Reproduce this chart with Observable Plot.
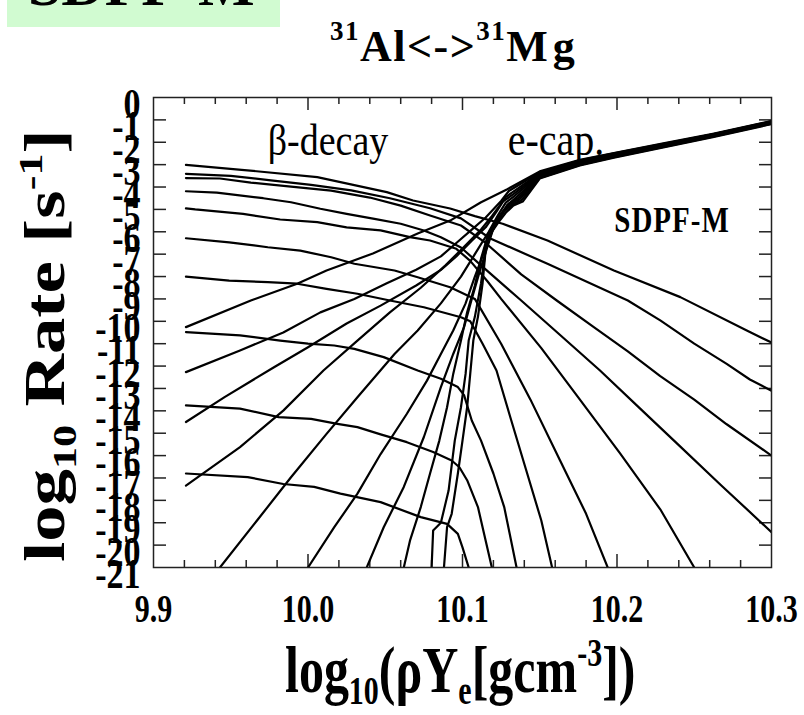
<!DOCTYPE html>
<html><head><meta charset="utf-8">
<script src="https://cdn.jsdelivr.net/npm/d3@7"></script>
<script src="https://cdn.jsdelivr.net/npm/@observablehq/plot@0.6"></script>
<style>
body{margin:0;background:#fff;}
#wrap{position:relative;width:804px;height:715px;overflow:hidden;font-family:"Liberation Serif","Times New Roman",serif;}
#wrap svg{position:absolute;left:0;top:0;}
</style></head><body><div id="wrap"></div>
<script>
// ---- tick values ----
const xLabelTicks = [9.9, 10.0, 10.1, 10.2, 10.3];
const xMinorTicks = [9.92,9.94,9.96,9.98,10.0,10.02,10.04,10.06,10.08,10.1,10.12,10.14,10.16,10.18,10.2,10.22,10.24,10.26,10.28];
const yLabelTicks = [0,-1,-2,-3,-4,-5,-6,-7,-8,-9,-10,-11,-12,-13,-14,-15,-16,-17,-18,-19,-20,-21];
const yInnerTicks = [-1,-2,-3,-4,-5,-6,-7,-8,-9,-10,-11,-12,-13,-14,-15,-16,-17,-18,-19,-20];

// ---- beta-decay curves, [log10(rho Ye), log10 rate] ----
const betaT1 = [[9.921,-3.01],[9.957,-3.23],[10.006,-3.56],[10.021,-3.78],[10.051,-4.23],[10.068,-4.60],[10.092,-4.96],[10.108,-5.30],[10.126,-5.64],[10.155,-6.39],[10.198,-7.73],[10.241,-8.92],[10.284,-10.41],[10.300,-10.95]];
const betaT2 = [[9.921,-3.41],[9.950,-3.50],[9.976,-3.70],[10.002,-3.90],[10.028,-4.15],[10.053,-4.50],[10.079,-4.95],[10.099,-5.40],[10.118,-6.30],[10.155,-7.43],[10.207,-9.07],[10.228,-9.96],[10.250,-11.00],[10.271,-11.90],[10.286,-12.60],[10.300,-13.10]];
const betaT3 = [[9.921,-3.60],[9.943,-3.62],[9.963,-3.80],[9.989,-3.98],[10.015,-4.16],[10.040,-4.47],[10.060,-4.83],[10.079,-5.27],[10.099,-5.72],[10.115,-6.50],[10.138,-7.90],[10.161,-9.07],[10.185,-10.26],[10.207,-11.34],[10.228,-12.45],[10.250,-13.50],[10.271,-14.60],[10.300,-16.00]];
const betaT4 = [[9.921,-4.19],[9.941,-4.25],[9.971,-4.50],[9.989,-4.68],[10.008,-4.97],[10.025,-5.20],[10.043,-5.42],[10.060,-5.64],[10.075,-5.94],[10.086,-6.24],[10.099,-6.70],[10.112,-7.50],[10.138,-9.07],[10.163,-10.60],[10.189,-12.20],[10.215,-13.90],[10.241,-15.60],[10.267,-17.30],[10.300,-19.42]];
const betaT5 = [[9.921,-4.95],[9.927,-5.00],[9.958,-5.20],[9.982,-5.45],[10.006,-5.57],[10.025,-5.80],[10.047,-5.94],[10.066,-6.24],[10.079,-6.39],[10.096,-6.76],[10.105,-7.30],[10.116,-8.20],[10.125,-9.00],[10.151,-11.20],[10.176,-13.50],[10.202,-15.90],[10.228,-18.40],[10.250,-21.00]];
const betaT6 = [[9.921,-6.29],[9.949,-6.47],[9.974,-6.69],[9.995,-6.84],[10.015,-7.14],[10.030,-7.43],[10.056,-7.73],[10.071,-8.03],[10.092,-8.48],[10.108,-9.00],[10.125,-11.00],[10.144,-13.50],[10.163,-16.20],[10.180,-18.60],[10.194,-21.00]];
const betaT7 = [[9.921,-8.00],[9.949,-8.18],[9.974,-8.25],[9.993,-8.32],[10.012,-8.55],[10.032,-8.77],[10.053,-9.07],[10.075,-9.37],[10.099,-9.82],[10.105,-10.00],[10.113,-11.00],[10.122,-12.20],[10.131,-14.30],[10.141,-16.60],[10.151,-18.90],[10.158,-21.00]];
const betaT8 = [[9.921,-10.48],[9.956,-10.63],[9.982,-10.86],[10.000,-11.00],[10.017,-11.08],[10.030,-11.23],[10.049,-11.60],[10.071,-12.20],[10.086,-12.57],[10.097,-12.94],[10.101,-13.30],[10.106,-14.43],[10.112,-15.33],[10.120,-16.80],[10.127,-18.30],[10.135,-21.00]];
const betaT9 = [[9.921,-13.76],[9.956,-13.90],[9.981,-14.28],[10.002,-14.36],[10.019,-14.58],[10.032,-14.73],[10.047,-15.05],[10.064,-15.40],[10.081,-15.84],[10.093,-16.22],[10.098,-16.52],[10.103,-17.10],[10.110,-18.30],[10.114,-19.50],[10.119,-21.00]];
const betaT10 = [[9.921,-16.80],[9.961,-16.96],[9.984,-17.27],[10.004,-17.40],[10.021,-17.70],[10.047,-18.08],[10.073,-18.75],[10.090,-19.05],[10.097,-19.50],[10.100,-20.10],[10.104,-21.00]];

// ---- electron-capture curves ----
const ecapT1 = [[9.921,-10.26],[9.963,-9.07],[9.993,-8.32],[10.012,-7.73],[10.042,-6.97],[10.071,-6.08],[10.092,-5.50],[10.112,-4.68],[10.129,-4.10],[10.150,-3.30],[10.176,-2.78],[10.198,-2.48],[10.230,-2.05],[10.262,-1.62],[10.300,-1.05]];
const ecapT2 = [[9.921,-12.27],[9.956,-11.30],[9.984,-10.50],[10.008,-9.60],[10.030,-9.00],[10.051,-8.30],[10.070,-7.70],[10.086,-7.10],[10.096,-6.50],[10.106,-5.90],[10.115,-5.36],[10.125,-4.62],[10.130,-4.18],[10.150,-3.34],[10.176,-2.81],[10.198,-2.50],[10.230,-2.07],[10.262,-1.64],[10.300,-1.06]];
const ecapT3 = [[9.921,-14.50],[9.946,-13.39],[9.978,-12.05],[10.000,-11.16],[10.025,-10.10],[10.047,-9.30],[10.070,-8.40],[10.086,-7.70],[10.096,-7.10],[10.106,-6.40],[10.115,-5.80],[10.122,-5.10],[10.128,-4.45],[10.132,-4.25],[10.150,-3.38],[10.176,-2.84],[10.198,-2.52],[10.230,-2.09],[10.262,-1.65],[10.300,-1.08]];
const ecapT4 = [[9.921,-17.34],[9.956,-15.62],[9.984,-13.99],[10.010,-12.20],[10.032,-10.86],[10.053,-9.60],[10.073,-8.50],[10.089,-7.50],[10.102,-6.60],[10.112,-5.90],[10.119,-5.30],[10.126,-4.65],[10.133,-4.32],[10.150,-3.41],[10.176,-2.87],[10.198,-2.55],[10.230,-2.11],[10.262,-1.67],[10.300,-1.10]];
const ecapT5 = [[9.943,-21.00],[9.967,-18.90],[9.989,-16.97],[10.012,-15.03],[10.032,-13.39],[10.056,-11.46],[10.071,-10.41],[10.086,-9.20],[10.099,-8.00],[10.108,-7.00],[10.117,-6.00],[10.123,-5.25],[10.128,-4.70],[10.134,-4.38],[10.150,-3.45],[10.176,-2.90],[10.198,-2.57],[10.230,-2.13],[10.262,-1.68],[10.300,-1.11]];
const ecapT6 = [[10.000,-21.00],[10.017,-19.20],[10.032,-17.70],[10.047,-15.93],[10.064,-14.13],[10.077,-12.65],[10.086,-11.46],[10.094,-10.41],[10.102,-9.20],[10.108,-8.00],[10.114,-6.90],[10.119,-6.00],[10.124,-5.35],[10.129,-4.80],[10.135,-4.45],[10.150,-3.49],[10.176,-2.93],[10.198,-2.59],[10.230,-2.15],[10.262,-1.70],[10.300,-1.12]];
const ecapT7 = [[10.038,-21.00],[10.049,-19.20],[10.062,-17.40],[10.075,-15.17],[10.086,-12.94],[10.094,-11.46],[10.101,-10.26],[10.106,-9.00],[10.111,-7.80],[10.116,-6.70],[10.120,-5.85],[10.125,-5.20],[10.130,-4.75],[10.136,-4.50],[10.150,-3.52],[10.176,-2.96],[10.198,-2.62],[10.230,-2.17],[10.262,-1.71],[10.300,-1.14]];
const ecapT8 = [[10.062,-21.00],[10.066,-19.80],[10.073,-18.30],[10.079,-16.80],[10.085,-15.33],[10.090,-13.84],[10.094,-12.35],[10.099,-10.86],[10.103,-9.60],[10.108,-8.40],[10.112,-7.20],[10.116,-6.25],[10.121,-5.55],[10.126,-5.10],[10.131,-4.75],[10.137,-4.55],[10.150,-3.55],[10.176,-2.98],[10.198,-2.64],[10.230,-2.19],[10.262,-1.73],[10.300,-1.15]];
const ecapT9 = [[10.080,-21.00],[10.081,-19.35],[10.086,-19.00],[10.091,-17.56],[10.093,-16.44],[10.095,-15.33],[10.099,-13.84],[10.102,-12.35],[10.104,-10.86],[10.108,-9.80],[10.112,-8.30],[10.115,-6.80],[10.118,-6.00],[10.122,-5.60],[10.127,-5.10],[10.132,-4.78],[10.138,-4.60],[10.150,-3.59],[10.176,-3.01],[10.198,-2.67],[10.230,-2.21],[10.262,-1.75],[10.300,-1.17]];
const ecapT10 = [[10.088,-21.00],[10.090,-19.20],[10.093,-18.60],[10.097,-16.80],[10.100,-15.33],[10.103,-13.84],[10.105,-12.35],[10.107,-10.86],[10.110,-9.80],[10.113,-8.30],[10.115,-6.80],[10.119,-6.00],[10.123,-5.60],[10.128,-5.15],[10.133,-4.82],[10.139,-4.65],[10.150,-3.62],[10.176,-3.04],[10.198,-2.69],[10.230,-2.23],[10.262,-1.77],[10.300,-1.19]];

// ---- build table ----
const series = [
  ["b1",betaT1],["b2",betaT2],["b3",betaT3],["b4",betaT4],["b5",betaT5],
  ["b6",betaT6],["b7",betaT7],["b8",betaT8],["b9",betaT9],["b10",betaT10],
  ["e1",ecapT1],["e2",ecapT2],["e3",ecapT3],["e4",ecapT4],["e5",ecapT5],
  ["e6",ecapT6],["e7",ecapT7],["e8",ecapT8],["e9",ecapT9],["e10",ecapT10]
];
const table = series.flatMap(([id, pts]) => pts.map(([x, y]) => ({id, x, y})));

const W = 804, H = 715, ML = 153, MR = 33, MT = 97, MB = 148;
const xDomain = [9.9, 10.3], yDomain = [-21, 0];
const xPx = (xDomain[1] - xDomain[0]) / (W - ML - MR);
const yPx = (yDomain[1] - yDomain[0]) / (H - MT - MB);
const isMajor = d => Math.abs(d * 10 - Math.round(d * 10)) < 1e-6;
const tickStroke = {stroke: "#222", strokeWidth: 1.5};

const chart = Plot.plot({
  width: W, height: H,
  marginLeft: ML, marginRight: MR, marginTop: MT, marginBottom: MB,
  style: {fontFamily: "'Liberation Serif', 'Times New Roman', serif", background: "transparent", color: "#000"},
  x: {domain: xDomain},
  y: {domain: yDomain},
  marks: [
    Plot.axisX({ticks: xLabelTicks, tickSize: 0, tickPadding: 27, tickFormat: d => d.toFixed(1), fontSize: 30, fontWeight: "bold", label: null}),
    Plot.axisY({ticks: yLabelTicks, tickSize: 0, tickPadding: 13, tickFormat: d => String(d), fontSize: 34, fontWeight: "bold", dy: 7, label: null}),
    Plot.ruleY(yInnerTicks, {x1: xDomain[0], x2: xDomain[0] + 13 * xPx, ...tickStroke}),
    Plot.ruleY(yInnerTicks, {x1: xDomain[1] - 12 * xPx, x2: xDomain[1], ...tickStroke}),
    Plot.ruleX(xMinorTicks, {y1: yDomain[0], y2: d => yDomain[0] + (isMajor(d) ? 13 : 7) * yPx, ...tickStroke}),
    Plot.ruleX(xMinorTicks, {y1: yDomain[1], y2: d => yDomain[1] - (isMajor(d) ? 13 : 7) * yPx, ...tickStroke}),
    Plot.line(table, {x: "x", y: "y", z: "id", stroke: "#000", strokeWidth: 2.2, strokeLinejoin: "round", clip: true}),
    Plot.frame({stroke: "#222", strokeWidth: 1.5})
  ]
});
document.getElementById("wrap").appendChild(chart);

// vertical stretch of tick labels, as in the original
chart.querySelectorAll('[aria-label="y-axis tick label"] text').forEach(t => {
  t.setAttribute("transform", (t.getAttribute("transform") || "") + " scale(1,1.25)");
});
chart.querySelectorAll('[aria-label="x-axis tick label"] text').forEach(t => {
  t.setAttribute("transform", (t.getAttribute("transform") || "") + " scale(1,1.3)");
});

// ---- overlay text ----
const ov = d3.select("#wrap").append("svg").attr("width", W).attr("height", H)
  .style("font-family", "'Liberation Serif', 'Times New Roman', serif");

ov.append("rect").attr("x", 7).attr("y", 0).attr("width", 273).attr("height", 27).attr("fill", "#d1fbd1");
ov.append("text").attr("x", 28).attr("y", 5).attr("font-size", 60).attr("font-weight", "bold").text("SDPF-M");

// title
const tt = ov.append("text").attr("transform", "translate(330,61)").attr("font-size", 44)
  .attr("font-weight", "bold").attr("letter-spacing", 1.5);
tt.append("tspan").attr("font-size", 27).attr("dy", -21).text("31");
tt.append("tspan").attr("dy", 21).text("Al<->");
tt.append("tspan").attr("font-size", 27).attr("dy", -21).text("31");
tt.append("tspan").attr("dy", 21).attr("letter-spacing", 5).text("Mg");

// y axis label
const yl = ov.append("text").attr("transform", "translate(64,562) rotate(-90) scale(1.3,1)")
  .attr("font-size", 56).attr("font-weight", "bold");
yl.append("tspan").text("log");
yl.append("tspan").attr("font-size", 34).attr("dy", 12).text("10");
yl.append("tspan").attr("dy", -12).text(" Rate [s");
yl.append("tspan").attr("font-size", 34).attr("dy", -22).text("-1");
yl.append("tspan").attr("dy", 22).text("]");

// x axis label
const xl = ov.append("text").attr("transform", "translate(285,692) scale(1,1.3)")
  .attr("font-size", 50).attr("font-weight", "bold");
xl.append("tspan").text("log");
xl.append("tspan").attr("font-size", 30).attr("dy", 9).text("10");
xl.append("tspan").attr("dy", -9).text("(ρY");
xl.append("tspan").attr("font-size", 30).attr("dy", 9).text("e");
xl.append("tspan").attr("dy", -9).text("[gcm");
xl.append("tspan").attr("font-size", 30).attr("dy", -20).text("-3");
xl.append("tspan").attr("dy", 20).text("])");

// in-plot annotations
ov.append("text").attr("transform", "translate(328,155) scale(1,1.15)").attr("text-anchor", "middle")
  .attr("font-size", 38).text("β-decay");
ov.append("text").attr("transform", "translate(556,155) scale(1,1.15)").attr("text-anchor", "middle")
  .attr("font-size", 40).text("e-cap.");
ov.append("text").attr("transform", "translate(672,232) scale(1,1.2)").attr("text-anchor", "middle")
  .attr("font-size", 29).attr("font-weight", "bold").attr("letter-spacing", 1).text("SDPF-M");
</script></body></html>
